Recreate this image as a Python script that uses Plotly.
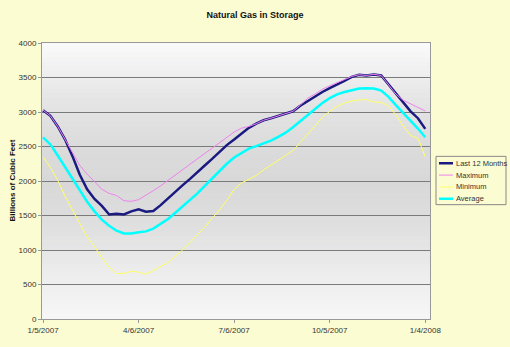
import plotly.graph_objects as go
import pandas as pd
import numpy as np

title = "Natural Gas in Storage"
y_title = "Billions of Cubic Feet"
dates = pd.date_range("2007-01-05", periods=53, freq="7D")

last12 = [3027, 2945, 2790, 2600, 2360, 2090, 1880, 1740, 1640, 1515,
          1525, 1515, 1560, 1590, 1555, 1565, 1650, 1750, 1845, 1940,
          2030, 2135, 2225, 2320, 2420, 2520, 2600, 2690, 2770, 2830,
          2880, 2910, 2940, 2975, 3010, 3090, 3160, 3230, 3290, 3345,
          3395, 3450, 3510, 3540, 3530, 3545, 3530, 3400, 3270, 3150,
          3010, 2910, 2755]
maximum = [3027, 2945, 2790, 2600, 2420, 2225, 2100, 1990, 1880, 1820,
           1790, 1715, 1705, 1730, 1790, 1860, 1930, 2010, 2085, 2170,
           2250, 2325, 2400, 2475, 2550, 2625, 2710, 2765, 2790, 2830,
           2880, 2910, 2940, 2975, 3010, 3100, 3200, 3260, 3330, 3380,
           3430, 3470, 3515, 3540, 3530, 3545, 3530, 3400, 3260, 3170,
           3115, 3065, 3015]
minimum = [2349, 2200, 2010, 1780, 1580, 1390, 1190, 1050, 890, 750,
           660, 660, 690, 680, 650, 700, 760, 820, 910, 1000,
           1110, 1220, 1330, 1460, 1580, 1720, 1880, 1970, 2030, 2080,
           2160, 2230, 2300, 2370, 2440, 2560, 2680, 2800, 2920, 3010,
           3080, 3130, 3160, 3175, 3180, 3145, 3140, 3090, 2960, 2800,
           2660, 2620, 2350]
average = [2633, 2530, 2370, 2200, 2050, 1865, 1700, 1560, 1440, 1350,
           1280, 1240, 1240, 1257, 1270, 1310, 1380, 1450, 1540, 1630,
           1720, 1820, 1930, 2040, 2150, 2250, 2340, 2410, 2470, 2505,
           2545, 2585, 2640, 2700, 2780, 2870, 2960, 3050, 3130, 3200,
           3255, 3290, 3320, 3340, 3345, 3340, 3310, 3220, 3100, 2990,
           2880, 2760, 2633]
x_ticks = ["2007-01-05", "2007-04-06", "2007-07-06", "2007-10-05", "2008-01-04"]
x_ticklabels = ["1/5/2007", "4/6/2007", "7/6/2007", "10/5/2007", "1/4/2008"]

series = [
    ("Last 12 Months", last12, "#1a1a80", 2.5),
    ("Maximum", maximum, "#ee82ee", 1),
    ("Minimum", minimum, "#ffff66", 1),
    ("Average", average, "#00ffff", 2.5),
]

# plot-area geometry (pixels) for converting legend layout to paper coords
L, R, T, B = 42, 430, 43, 323
def px(x):
    return (x - L) / (R - L)
def py(y):
    return (B - y) / (B - T)

fig = go.Figure()
for name, vals, color, w in series:
    fig.add_trace(go.Scatter(x=dates, y=vals, name=name, mode="lines",
                             line=dict(color=color, width=w), showlegend=False))

# vertical gradient in plot area
stops_y = [0.0, 0.15, 0.35, 0.5, 0.65, 0.8, 0.92, 1.0]
stops_c = [246, 238, 222, 216, 220, 230, 242, 250]
n = 60
shapes = []
for i in range(n):
    y0 = i / n
    y1 = (i + 1) / n
    c = int(round(np.interp((y0 + y1) / 2, stops_y, stops_c)))
    shapes.append(dict(type="rect", xref="paper", yref="paper", x0=0, x1=1,
                       y0=y0, y1=y1 + 0.002, fillcolor=f"rgb({c},{c},{c})",
                       line=dict(width=0), layer="below"))

annotations = [dict(text="<b>" + y_title + "</b>", xref="paper", yref="paper",
                    x=px(12), y=0.502, xanchor="center", yanchor="middle",
                    textangle=-90, showarrow=False,
                    font=dict(size=8, color="#111111"))]

# custom compact legend (Excel style)
shapes.append(dict(type="rect", xref="paper", yref="paper",
                   x0=px(436), x1=px(506), y0=py(207), y1=py(158),
                   fillcolor="#fcfcd2", line=dict(color="#888888", width=1),
                   layer="above"))
for k, (name, vals, color, w) in enumerate(series):
    yy = 165 + 12 * k
    shapes.append(dict(type="line", xref="paper", yref="paper",
                       x0=px(439), x1=px(453), y0=py(yy), y1=py(yy),
                       line=dict(color=color, width=w), layer="above"))
    annotations.append(dict(text=name, xref="paper", yref="paper",
                            x=px(454), y=py(yy), xanchor="left",
                            yanchor="middle", showarrow=False,
                            font=dict(size=7.5, color="#333333")))

fig.update_layout(
    width=510, height=347,
    margin=dict(l=L, r=510 - R, t=T, b=347 - B),
    paper_bgcolor="#fcfcd2",
    plot_bgcolor="rgba(0,0,0,0)",
    shapes=shapes,
    font=dict(family="Liberation Sans, Arial", size=8, color="#333333"),
    title=dict(text="<b>" + title + "</b>", x=0.5, xanchor="center",
               y=1 - 15 / 347, yanchor="middle",
               font=dict(size=9, color="#111111")),
    showlegend=False,
    annotations=annotations,
)
fig.update_xaxes(
    type="date", range=["2007-01-04", "2008-01-08 12:00"],
    tickvals=x_ticks, ticktext=x_ticklabels,
    showgrid=False, showline=True, linecolor="#999999", linewidth=1,
    mirror=True, ticks="outside", ticklen=3, tickcolor="#999999",
)
fig.update_yaxes(
    range=[0, 4000], dtick=500, showgrid=True, gridcolor="#7a7a7a",
    gridwidth=1, showline=True, linecolor="#999999", linewidth=1,
    mirror=True, ticks="outside", ticklen=3, tickcolor="#999999",
    zeroline=False,
)
fig.write_html("out.html")
